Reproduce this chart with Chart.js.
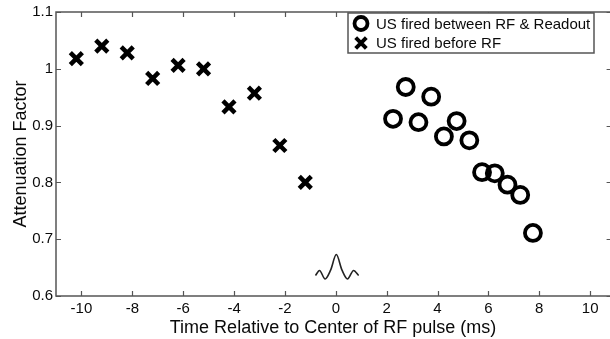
<!DOCTYPE html>
<html lang="en">
<head>
  <meta charset="UTF-8" />
  <title>Attenuation Factor vs Time</title>
  <script src="https://cdn.jsdelivr.net/npm/chart.js"></script>
  <style>
    html, body { margin: 0; padding: 0; background: #fff; overflow: hidden; width: 610px; height: 339px; }
    canvas { display: block; }
  </style>
</head>
<body>
  <canvas id="chart" width="610" height="339"></canvas>

  <script>
    // data
    const beforeX = [-10.2, -9.2, -8.2, -7.2, -6.2, -5.2, -4.2, -3.2, -2.2, -1.2];
    const beforeY = [1.018, 1.040, 1.028, 0.983, 1.006, 1.000, 0.933, 0.957, 0.865, 0.800];

    const betweenX = [2.25, 2.75, 3.25, 3.75, 4.25, 4.75, 5.25, 5.75, 6.25, 6.75, 7.25, 7.75];
    const betweenY = [0.912, 0.968, 0.906, 0.951, 0.881, 0.908, 0.874, 0.818, 0.816, 0.796, 0.778, 0.711];

    // small RF pulse glyph drawn near the x axis
    const pulseX = [-0.80, -0.64, -0.42, -0.2, 0.02, 0.24, 0.46, 0.70, 0.90];
    const pulseY = [0.636, 0.645, 0.630, 0.646, 0.673, 0.646, 0.630, 0.645, 0.636];

    const xTicks = [-10, -8, -6, -4, -2, 0, 2, 4, 6, 8, 10];
    const yTicks = [0.6, 0.7, 0.8, 0.9, 1, 1.1];

    // the axes box runs from -11 to 11, but the picture is cut at about 10.78
    const X_MIN = -11, X_BOX_MAX = 11, X_VISIBLE_MAX = 10.78;

    const FONT = "'Liberation Sans', Arial, sans-serif";
    const AXIS = '#555';
    const TEXT = '#0a0a0a';

    const toPoints = (xs, ys) => xs.map((x, i) => ({ x: x, y: ys[i] }));

    // frame, inward ticks and the boxed legend (MATLAB look)
    const framePlugin = {
      id: 'frame',
      afterDraw(chart) {
        const { ctx, chartArea: a, scales } = chart;
        const right = scales.x.getPixelForValue(X_BOX_MAX);
        ctx.save();
        ctx.strokeStyle = AXIS;
        ctx.lineWidth = 1.5;
        ctx.strokeRect(a.left, a.top, right - a.left, a.bottom - a.top);

        ctx.lineWidth = 1.2;
        ctx.beginPath();
        xTicks.forEach(v => {
          const px = Math.round(scales.x.getPixelForValue(v)) + 0.5;
          ctx.moveTo(px, a.bottom); ctx.lineTo(px, a.bottom - 5);
          ctx.moveTo(px, a.top); ctx.lineTo(px, a.top + 5);
        });
        yTicks.forEach(v => {
          const py = Math.round(scales.y.getPixelForValue(v)) + 0.5;
          ctx.moveTo(a.left, py); ctx.lineTo(a.left + 5, py);
          ctx.moveTo(right, py); ctx.lineTo(right - 9, py);
        });
        ctx.stroke();

        // legend
        const lx = 348, ly = 13, lw = 246, lh = 40;
        ctx.fillStyle = '#fff';
        ctx.fillRect(lx, ly, lw, lh);
        ctx.strokeStyle = AXIS;
        ctx.lineWidth = 1.5;
        ctx.strokeRect(lx, ly, lw, lh);

        const ds = chart.data.datasets;
        const rows = [ds[1], ds[0]];
        rows.forEach((d, i) => {
          const cy = ly + 10.5 + i * 19.5;
          ctx.strokeStyle = '#000';
          ctx.fillStyle = d.pointBackgroundColor;
          ctx.lineWidth = d.pointStyle === 'circle' ? 3.8 : 4;
          Chart.helpers.drawPoint(ctx, {
            pointStyle: d.pointStyle,
            radius: d.pointStyle === 'circle' ? 6.5 : 7.5,
            borderWidth: ctx.lineWidth,
            rotation: 0
          }, lx + 13, cy);
          ctx.fillStyle = TEXT;
          ctx.font = '15px ' + FONT;
          ctx.textBaseline = 'middle';
          ctx.textAlign = 'left';
          ctx.fillText(d.label, lx + 28, cy + 1);
        });
        ctx.restore();
      }
    };

    new Chart(document.getElementById('chart'), {
      type: 'scatter',
      data: {
        datasets: [
          {
            label: 'US fired before RF',
            data: toPoints(beforeX, beforeY),
            pointStyle: 'crossRot',
            pointRadius: 8.5,
            pointBorderWidth: 4.5,
            borderColor: '#000',
            pointBorderColor: '#000',
            pointBackgroundColor: '#000'
          },
          {
            label: 'US fired between RF & Readout',
            data: toPoints(betweenX, betweenY),
            pointStyle: 'circle',
            pointRadius: 8,
            pointBorderWidth: 3.8,
            borderColor: '#000',
            pointBorderColor: '#000',
            pointBackgroundColor: 'rgba(0,0,0,0)'
          },
          {
            type: 'line',
            label: 'pulse',
            data: toPoints(pulseX, pulseY),
            showLine: true,
            borderColor: '#222',
            borderWidth: 1.6,
            pointRadius: 0,
            cubicInterpolationMode: 'monotone',
            fill: false
          }
        ]
      },
      options: {
        responsive: false,
        animation: false,
        clip: false,
        layout: { autoPadding: false, padding: { top: 10, right: 0, left: 0, bottom: 0 } },
        plugins: {
          legend: { display: false },
          tooltip: { enabled: false }
        },
        scales: {
          x: {
            type: 'linear',
            min: X_MIN,
            max: X_VISIBLE_MAX,
            afterBuildTicks: s => { s.ticks = xTicks.map(v => ({ value: v })); },
            afterFit: s => { s.height = 43; s.paddingRight = 0; },
            grid: { display: false, drawTicks: false },
            border: { display: false },
            ticks: { color: TEXT, padding: 4, font: { size: 15, family: FONT }, maxRotation: 0 },
            title: {
              display: true,
              text: 'Time Relative to Center of RF pulse (ms)',
              color: TEXT,
              font: { size: 18, family: FONT },
              padding: { top: 5, bottom: 0 }
            }
          },
          y: {
            type: 'linear',
            min: 0.6,
            max: 1.1,
            afterBuildTicks: s => { s.ticks = yTicks.map(v => ({ value: v })); },
            afterFit: s => { s.width = 56; },
            grid: { display: false, drawTicks: false },
            border: { display: false },
            ticks: { color: TEXT, padding: 3, font: { size: 15, family: FONT }, callback: v => String(v) },
            title: {
              display: true,
              text: 'Attenuation Factor',
              color: TEXT,
              font: { size: 18, family: FONT },
              padding: { top: 10, bottom: 0 }
            }
          }
        }
      },
      plugins: [framePlugin]
    });
  </script>
</body>
</html>
